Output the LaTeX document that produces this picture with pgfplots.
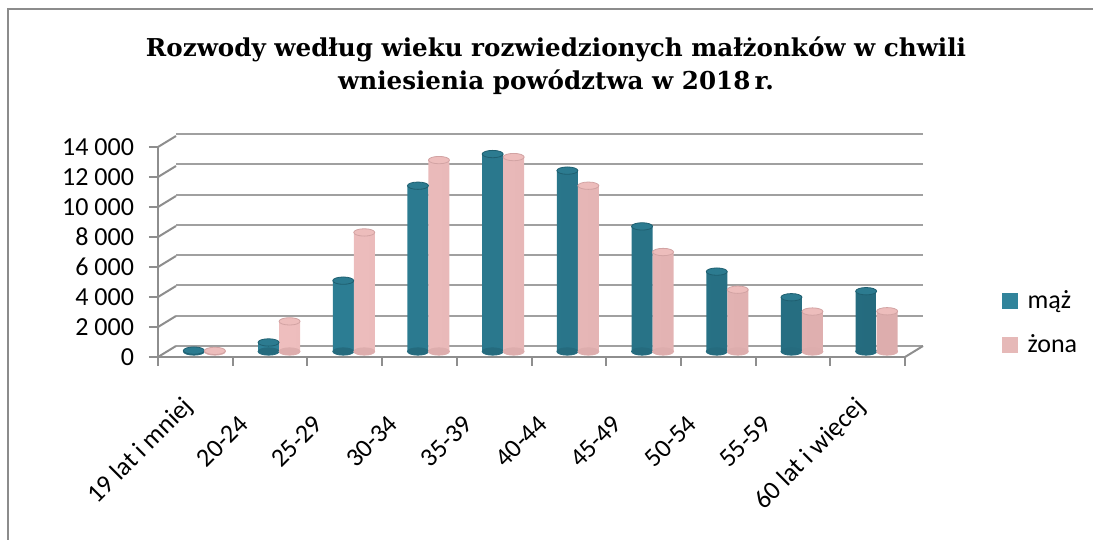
\documentclass[border=0pt]{standalone}
\usepackage{fontspec}
\setmainfont{Carlito}
\newfontfamily\titlefont{DejaVu Serif}
\usepackage{pgfplots}
\usepackage{pgfplotstable}
\pgfplotsset{compat=1.18}

\definecolor{mazTop}{HTML}{2C7B90}
\definecolor{mazRim}{HTML}{1F5F70}
\definecolor{mazL}{HTML}{2E8299}
\definecolor{mazM}{HTML}{3B98B1}
\definecolor{mazR}{HTML}{256B7E}
\definecolor{mazc}{HTML}{31849B}
\definecolor{zonTop}{HTML}{EDBDBC}
\definecolor{zonRim}{HTML}{D2A3A3}
\definecolor{zonL}{HTML}{F0C0C0}
\definecolor{zonM}{HTML}{F8D0D0}
\definecolor{zonR}{HTML}{DDADAD}
\definecolor{zonc}{HTML}{E6B9B8}
\definecolor{gridc}{HTML}{A0A0A0}
\definecolor{axisc}{HTML}{8E8E8E}
\definecolor{framec}{HTML}{8C8C8C}

\pgfplotstableread{
x maz zona base
0 60 40 0
1 600 2000 0
2 4700 7900 0
3 11000 12700 0
4 13100 12900 0
5 12000 11000 0
6 8300 6600 0
7 5300 4100 0
8 3600 2650 0
9 4000 2670 0
}\data

\begin{document}
\begin{tikzpicture}
\useasboundingbox (0,0) rectangle (546.5pt,270pt);
\draw[framec, line width=1pt] (4pt,0) -- (4pt,265.5pt) -- (546.5pt,265.5pt);

\node[anchor=base, font=\titlefont\bfseries\fontsize{12.3}{14}\selectfont] at (278pt,241.7pt) {Rozwody według wieku rozwiedzionych małżonków w chwili};
\node[anchor=base, font=\titlefont\bfseries\fontsize{12.3}{14}\selectfont] at (278pt,225pt) {wniesienia powództwa w 2018\,r.};

% back wall
\begin{axis}[at={(88pt,97pt)}, anchor=south west, scale only axis,
  width=373.5pt, height=106pt, xmin=-0.5, xmax=9.5, ymin=0, ymax=14000,
  scaled y ticks=false,
  axis line style={draw=none}, xtick=\empty, ytick={0,2000,...,14000},
  yticklabels={}, major tick length=0pt, ymajorgrids,
  major grid style={gridc, line width=1pt}]
\end{axis}

% bars (middle plane)
\begin{axis}[at={(83.5pt,94.25pt)}, anchor=south west, scale only axis,
  width=373.5pt, height=105.5pt, xmin=-0.5, xmax=9.5, ymin=0, ymax=14000,
  scaled y ticks=false,
  axis line style={draw=none}, xtick=\empty, ytick=\empty, clip=false,
  legend style={at={(1.117,0.31)}, anchor=north west, draw=none, fill=none,
    font=\fontsize{13}{15}\selectfont, row sep=7.5pt, column sep=3pt, inner sep=0pt},
  legend cell align=left]
\addplot[forget plot, only marks, mark=*, mark size=5.25pt, color=mazR,
  mark options={xshift=-5.25pt, yscale=0.35, fill=mazR, draw=mazR}]
  table[x=x, y=base]{\data};
\addplot[forget plot, only marks, mark=*, mark size=5.25pt, color=zonR,
  mark options={xshift=5.25pt, yscale=0.35, fill=zonR, draw=zonR}]
  table[x=x, y=base]{\data};
\addplot[forget plot, ybar, bar width=10.5pt, bar shift=-5.25pt, draw=none,
  left color=mazL, middle color=mazM, right color=mazR]
  table[x=x, y=maz]{\data};
\addplot[forget plot, only marks, mark=*, mark size=5.25pt, color=mazRim,
  mark options={xshift=-5.25pt, yscale=0.35, fill=mazTop, draw=mazRim, line width=0.4pt}]
  table[x=x, y=maz]{\data};
\addplot[forget plot, ybar, bar width=10.5pt, bar shift=5.25pt, draw=none,
  left color=zonL, middle color=zonM, right color=zonR]
  table[x=x, y=zona]{\data};
\addplot[forget plot, only marks, mark=*, mark size=5.25pt, color=zonRim,
  mark options={xshift=5.25pt, yscale=0.35, fill=zonTop, draw=zonRim, line width=0.4pt}]
  table[x=x, y=zona]{\data};
\addlegendimage{legend image code/.code={\fill[mazc] (0pt,-3.75pt) rectangle (7.5pt,3.75pt);}}
\addlegendentry{mąż}
\addlegendimage{legend image code/.code={\fill[zonc] (0pt,-3.75pt) rectangle (7.5pt,3.75pt);}}
\addlegendentry{żona}
\end{axis}

% front axis
\begin{axis}[at={(79pt,91.5pt)}, anchor=south west, scale only axis,
  width=373.5pt, height=105pt, xmin=-0.5, xmax=9.5, ymin=0, ymax=14000,
  scaled y ticks=false, clip=false,
  axis x line*=bottom, axis y line*=left,
  axis line style={draw=axisc, line width=1pt},
  tick style={draw=axisc, line width=1pt},
  tick align=outside, major tick length=4.5pt, minor tick length=4.5pt,
  ytick={0,2000,...,14000},
  yticklabels={0,{2 000},{4 000},{6 000},{8 000},{10 000},{12 000},{14 000}},
  xtick={0,...,9},
  minor xtick={-0.5,0.5,...,9.5},
  major x tick style={draw=none},
  xticklabels={19 lat i mniej,{20-24\hspace*{13pt}},{25-29\hspace*{13pt}},{30-34\hspace*{13pt}},{35-39\hspace*{13pt}},{40-44\hspace*{13pt}},{45-49\hspace*{13pt}},{50-54\hspace*{13pt}},{55-59\hspace*{13pt}},60 lat i więcej},
  tick label style={font=\fontsize{13}{15}\selectfont},
  yticklabel style={xshift=-4pt},
  xticklabel style={xshift=-7pt, yshift=-13pt, rotate=45, anchor=north east, inner sep=1pt}]
\pgfplotsinvokeforeach{0,2000,4000,6000,8000,10000,12000,14000}{
  \draw[axisc, line width=1pt] (axis cs:-0.5,#1) -- ++(9pt,5.5pt);
}
\draw[axisc, line width=1pt] (axis cs:9.5,0) -- ++(9pt,5.5pt);
\end{axis}
\end{tikzpicture}
\end{document}
